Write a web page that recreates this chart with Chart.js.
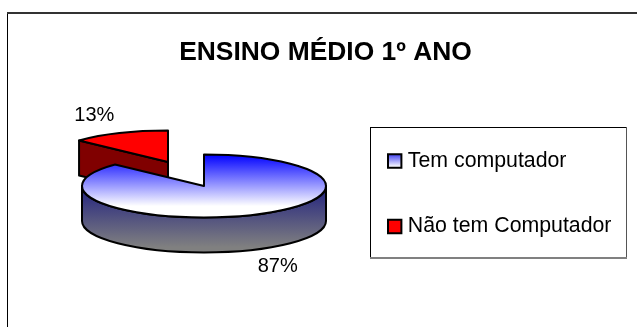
<!DOCTYPE html>
<html>
<head>
<meta charset="utf-8">
<style>html,body{margin:0;padding:0;background:#fff}canvas{display:block}</style>
<script src="https://cdn.jsdelivr.net/npm/chart.js@4"></script>
</head>
<body>
<canvas id="c" width="637" height="327"></canvas>
<script>
const chartTitle = 'ENSINO MÉDIO 1º ANO';
const categories = ['Tem computador', 'Não tem Computador'];
const values = [87, 13];

const FONT = '"Liberation Sans", Arial, sans-serif';
const TILT = 0.258, DEPTH = 35;
const explode = [[0, 0], [-36, -24]];
const labelNudge = [[0, 2], [0, -2.5]];

function vGrad(ctx, y0, y1, c0, c1, stop) {
  const g = ctx.createLinearGradient(0, y0, 0, y1);
  g.addColorStop(0, c0); g.addColorStop(stop || 1, c1);
  if (stop) g.addColorStop(1, c1);
  return g;
}

const pie3d = {
  id: 'pie3d',
  afterLayout(chart) {
    // plot area sized so the pie takes its width; legend moved inside its frame
    const w = 244;
    chart.chartArea = {left: 82, right: 82 + w, top: 186 - w / 2, bottom: 186 + w / 2, width: w, height: w, w, h: w};
    const lg = chart.legend;
    const h = lg.bottom - lg.top, wd = lg.right - lg.left;
    lg.left = 348; lg.right = 348 + wd; lg.top = 106.2; lg.bottom = 106.2 + h;
  },
  beforeDraw(chart) {
    const c = chart.ctx;
    c.save();
    c.fillStyle = '#fff'; c.fillRect(0, 0, chart.width, chart.height);
    c.fillStyle = '#000'; c.fillRect(7, 13, 1, chart.height - 13);
    c.fillStyle = '#333'; c.fillRect(7, 12, chart.width - 7, 2);
    // legend frame
    c.fillStyle = '#000';
    c.fillRect(370, 127, 256, 1); c.fillRect(370, 127, 1, 130);
    c.fillStyle = '#555';
    c.fillRect(626, 127, 1, 131);
    c.fillStyle = '#808080';
    c.fillRect(370, 257, 257, 2);
    c.restore();
  },
  beforeDatasetsDraw(chart) {
    const c = chart.ctx, arcs = chart.getDatasetMeta(0).data;
    c.save();
    c.lineWidth = 2; c.strokeStyle = '#000'; c.lineJoin = 'round';
    [1, 0].forEach(i => {
      const arc = arcs[i];
      const {x, y, startAngle: a0, endAngle: a1, outerRadius: r} = arc.getProps(['x', 'y', 'startAngle', 'endAngle', 'outerRadius'], true);
      const cx = x + explode[i][0], cy = y + explode[i][1], ry = r * TILT;
      const wall = i === 0 ? vGrad(c, cy, cy + ry + DEPTH, '#20207f', '#808080', 0.92) : '#800000';
      // radial face on the near side
      if (Math.sin(a0 - Math.PI / 2) > 1e-6) {
        const ex = cx + r * Math.cos(a0), ey = cy + ry * Math.sin(a0);
        c.beginPath();
        c.moveTo(cx, cy); c.lineTo(ex, ey); c.lineTo(ex, ey + DEPTH); c.lineTo(cx, cy + DEPTH); c.closePath();
        c.fillStyle = wall; c.fill(); c.stroke();
      }
      // outer wall on the front half
      const from = Math.max(a0, 0), to = Math.min(a1, Math.PI);
      if (to > from) {
        c.beginPath();
        c.ellipse(cx, cy, r, ry, 0, from, to);
        c.ellipse(cx, cy + DEPTH, r, ry, 0, to, from, true);
        c.closePath();
        c.fillStyle = wall; c.fill(); c.stroke();
      }
      // top face: the library's own arc, tilted
      c.save();
      c.translate(cx, cy); c.scale(1, TILT); c.translate(-x, -y);
      arc.draw(c);
      c.restore();
      c.beginPath();
      c.ellipse(cx, cy, r, ry, 0, a0, a1);
      c.lineTo(cx, cy);
      c.closePath();
      c.stroke();
    });
    // percent labels
    const total = values.reduce((a, b) => a + b, 0);
    c.fillStyle = '#000'; c.font = '20px ' + FONT; c.textAlign = 'center'; c.textBaseline = 'middle';
    arcs.forEach((arc, i) => {
      const {x, y, startAngle: a0, endAngle: a1, outerRadius: r} = arc.getProps(['x', 'y', 'startAngle', 'endAngle', 'outerRadius'], true);
      const m = (a0 + a1) / 2, R = r * 1.52;
      const lx = x + explode[i][0] + R * Math.cos(m) + labelNudge[i][0];
      const ly = y + explode[i][1] + R * TILT * Math.sin(m) + (Math.sin(m) > 0 ? DEPTH : 0) + labelNudge[i][1];
      c.fillText(Math.round(values[i] / total * 100) + '%', lx, ly);
    });
    c.restore();
    return false;
  }
};

const el = document.getElementById('c');
new Chart(el, {
  type: 'pie',
  data: {
    labels: categories,
    datasets: [{
      data: values,
      borderWidth: 0,
      backgroundColor(ctx) {
        if (ctx.dataIndex === 1) return '#ff0000';
        const a = ctx.chart.chartArea;
        return a ? vGrad(ctx.chart.ctx, a.top, a.bottom, '#0000ff', '#ffffff', 0.82) : '#8080ff';
      }
    }]
  },
  plugins: [pie3d],
  options: {
    responsive: false,
    animation: false,
    layout: {padding: {left: 14, top: 37, right: 0, bottom: 0}},
    plugins: {
      tooltip: {enabled: false},
      title: {
        display: true, text: chartTitle, color: '#000',
        font: {family: FONT, size: 26.4, weight: 'bold'},
        padding: {top: 0, bottom: 0}
      },
      legend: {
        display: true, position: 'right', align: 'start',
        labels: {
          color: '#000',
          font: {family: FONT, size: 21.3},
          usePointStyle: true, boxWidth: 5, boxHeight: 13.4, padding: 44.2,
          generateLabels(chart) {
            const c = chart.ctx;
            return categories.map((t, i) => ({
              text: t, index: i, datasetIndex: 0, hidden: false,
              pointStyle: 'rect', lineWidth: 2, strokeStyle: '#000', fontColor: '#000',
              fillStyle: i === 0 ? vGrad(c, 153, 167, '#3030f0', '#ffffff') : '#ff0000'
            }));
          }
        }
      }
    }
  }
});
</script>
</body>
</html>
